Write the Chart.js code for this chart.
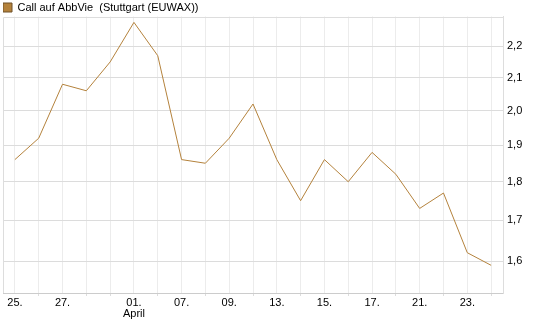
<!DOCTYPE html>
<html>
<head>
<meta charset="utf-8">
<script src="https://cdn.jsdelivr.net/npm/chart.js@4"></script>
<style>
    html, body { margin: 0; padding: 0; background: #fff; }
</style>
</head>
<body>
<canvas id="chart" width="545" height="327"></canvas>
<script>
const seriesName = "Call auf AbbVie  (Stuttgart (EUWAX))";

// one entry per trading day, "" where the reference prints no label
const xTicks = ["25.", "", "27.", "", "", "01.", "", "07.", "", "09.", "", "13.", "", "15.", "", "17.", "", "21.", "", "23.", ""];
const monthIndex = 5;
const monthLabel = "April";

const prices = [1.86, 1.92, 2.08, 2.06, 2.15, 2.28, 2.17, 1.86, 1.85, 1.92, 2.02, 1.86, 1.75, 1.86, 1.80, 1.88, 1.82, 1.73, 1.77, 1.62, 1.59];

const yTicks = [1.6, 1.7, 1.8, 1.9, 2.0, 2.1, 2.2];
const yMin = 1.526;
const yMax = 2.30;

const lineColor = "#b4823c";

// top + left edge of the plot frame (right/bottom come from the axes)
const framePlugin = {
    id: "frame",
    beforeDatasetsDraw(chart) {
        const { ctx, chartArea: a } = chart;
        const l = Math.round(a.left) + 0.5;
        const t = Math.round(a.top) + 0.5;
        ctx.save();
        ctx.strokeStyle = "#dddddd";
        ctx.lineWidth = 1;
        ctx.beginPath();
        ctx.moveTo(l, a.bottom);
        ctx.lineTo(l, t);
        ctx.lineTo(a.right, t);
        ctx.stroke();
        ctx.restore();
    },
};

const labels = xTicks.map((t, i) => (i === monthIndex ? [t, monthLabel] : t));

new Chart(document.getElementById("chart"), {
    type: "line",
    data: {
        labels: labels,
        datasets: [{
            label: seriesName,
            data: prices,
            borderColor: lineColor,
            backgroundColor: lineColor,
            borderWidth: 1,
            pointRadius: 0,
            tension: 0,
        }],
    },
    options: {
        responsive: false,
        animation: false,
        layout: { padding: { top: 2, left: 3, right: 0, bottom: 0 } },
        plugins: {
            tooltip: { enabled: false },
            legend: {
                position: "top",
                align: "start",
                maxHeight: 14.5,
                labels: {
                    boxWidth: 9,
                    boxHeight: 9,
                    padding: 0,
                    color: "#000",
                    font: { family: "'Liberation Sans', Arial, sans-serif", size: 11 },
                    generateLabels: chart => [{
                        text: seriesName,
                        fillStyle: lineColor,
                        strokeStyle: "#6e5028",
                        lineWidth: 1,
                        datasetIndex: 0,
                    }],
                },
            },
        },
        scales: {
            x: {
                offset: true,
                grid: {
                    offset: false,
                    color: "#ececec",
                    tickLength: 3,
                    tickColor: c => (xTicks[c.index] ? "rgba(0,0,0,0)" : "#dddddd"),
                },
                border: { color: "#cccccc" },
                ticks: {
                    autoSkip: false,
                    maxRotation: 0,
                    padding: 1,
                    color: "#000",
                    font: { family: "'Liberation Sans', Arial, sans-serif", size: 11, lineHeight: 1 },
                },
                afterFit: s => { s.height = 34; },
            },
            y: {
                type: "logarithmic",
                position: "right",
                min: yMin,
                max: yMax,
                grid: { color: "#dcdcdc", drawTicks: false },
                border: { color: "#dddddd" },
                afterBuildTicks: s => { s.ticks = yTicks.map(v => ({ value: v })); },
                ticks: {
                    padding: 4,
                    color: "#000",
                    font: { family: "'Liberation Sans', Arial, sans-serif", size: 11 },
                    callback: v => v.toFixed(1).replace(".", ","),
                },
                afterFit: s => { s.width = 42; },
            },
        },
    },
    plugins: [framePlugin],
});
</script>
</body>
</html>
